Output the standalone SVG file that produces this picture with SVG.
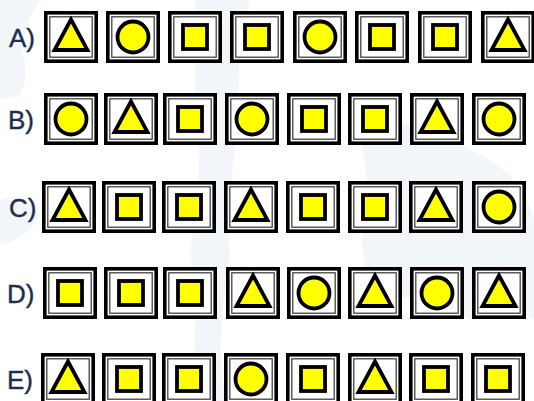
<svg xmlns="http://www.w3.org/2000/svg" xmlns:xlink="http://www.w3.org/1999/xlink" width="534" height="401" viewBox="0 0 534 401">
<style>
.lbl{font-family:"Liberation Sans",Arial,sans-serif;font-size:26px;fill:#1e2e4e;stroke:#1e2e4e;stroke-width:0.4}
.outer{fill:#fff;stroke:#000;stroke-width:3.6}
.inner{fill:none;stroke:#333;stroke-width:1.2}
.shape{fill:#ffff00;stroke:#000;stroke-width:3.8;stroke-linejoin:miter}
.bg{fill:#e9eef6;opacity:0.6}
</style>
<defs>
<g id="box"><rect class="outer" x="-25.2" y="-24.2" width="50.4" height="48.4"/><rect class="inner" x="-21.2" y="-20.2" width="42.4" height="40.4"/></g>
<g id="tri"><use href="#box"/><polygon class="shape" points="0,-17.5 -16.5,13 16.5,13"/></g>
<g id="circ"><use href="#box"/><circle class="shape" cx="0" cy="0" r="15.5"/></g>
<g id="sq"><use href="#box"/><rect class="shape" x="-12" y="-12" width="24" height="24"/></g>
</defs>
<rect width="534" height="401" fill="#fff"/>
<g id="watermark">
<path class="bg" d="M0,0 L40,0 Q25,20 22,50 Q30,75 20,95 L0,100 Z"/>
<path class="bg" d="M195,0 L250,0 Q235,60 240,120 Q225,200 230,260 Q215,330 225,401 L190,401 Q200,320 190,250 Q205,170 195,90 Z"/>
<path class="bg" d="M360,130 Q420,110 470,150 Q520,170 534,220 L534,320 Q500,300 470,320 Q420,290 380,300 Q350,250 370,200 Z"/>
<path class="bg" d="M0,200 Q20,190 40,215 Q25,240 0,245 Z"/>
</g>
<g id="labels">
<text class="lbl" x="9" y="47">A)</text>
<text class="lbl" x="8" y="129">B)</text>
<text class="lbl" x="9" y="217">C)</text>
<text class="lbl" x="7" y="303">D)</text>
<text class="lbl" x="7" y="389">E)</text>
</g>
<g id="rowA">
<use id="A1" href="#tri" transform="translate(71,37)"/>
<use id="A2" href="#circ" transform="translate(133,37)"/>
<use id="A3" href="#sq" transform="translate(195,37)"/>
<use id="A4" href="#sq" transform="translate(257,37)"/>
<use id="A5" href="#circ" transform="translate(320,37)"/>
<use id="A6" href="#sq" transform="translate(382,37)"/>
<use id="A7" href="#sq" transform="translate(445,37)"/>
<use id="A8" href="#tri" transform="translate(508,37)"/>
</g>
<g id="rowB">
<use id="B1" href="#circ" transform="translate(71,119)"/>
<use id="B2" href="#tri" transform="translate(131,119)"/>
<use id="B3" href="#sq" transform="translate(190,119)"/>
<use id="B4" href="#circ" transform="translate(252,119)"/>
<use id="B5" href="#sq" transform="translate(314,119)"/>
<use id="B6" href="#sq" transform="translate(375,119)"/>
<use id="B7" href="#tri" transform="translate(437,119)"/>
<use id="B8" href="#circ" transform="translate(499,119)"/>
</g>
<g id="rowC">
<use id="C1" href="#tri" transform="translate(69,207)"/>
<use id="C2" href="#sq" transform="translate(129,207)"/>
<use id="C3" href="#sq" transform="translate(189,207)"/>
<use id="C4" href="#tri" transform="translate(251,207)"/>
<use id="C5" href="#sq" transform="translate(313,207)"/>
<use id="C6" href="#sq" transform="translate(375,207)"/>
<use id="C7" href="#tri" transform="translate(436,207)"/>
<use id="C8" href="#circ" transform="translate(499,207)"/>
</g>
<g id="rowD">
<use id="D1" href="#sq" transform="translate(70,293)"/>
<use id="D2" href="#sq" transform="translate(131,293)"/>
<use id="D3" href="#sq" transform="translate(190,293)"/>
<use id="D4" href="#tri" transform="translate(253,293)"/>
<use id="D5" href="#circ" transform="translate(314,293)"/>
<use id="D6" href="#tri" transform="translate(375,293)"/>
<use id="D7" href="#circ" transform="translate(437,293)"/>
<use id="D8" href="#tri" transform="translate(499,293)"/>
</g>
<g id="rowE">
<use id="E1" href="#tri" transform="translate(68,379)"/>
<use id="E2" href="#sq" transform="translate(129,379)"/>
<use id="E3" href="#sq" transform="translate(189,379)"/>
<use id="E4" href="#circ" transform="translate(251,379)"/>
<use id="E5" href="#sq" transform="translate(313,379)"/>
<use id="E6" href="#tri" transform="translate(375,379)"/>
<use id="E7" href="#sq" transform="translate(436,379)"/>
<use id="E8" href="#sq" transform="translate(498,379)"/>
</g>
</svg>
